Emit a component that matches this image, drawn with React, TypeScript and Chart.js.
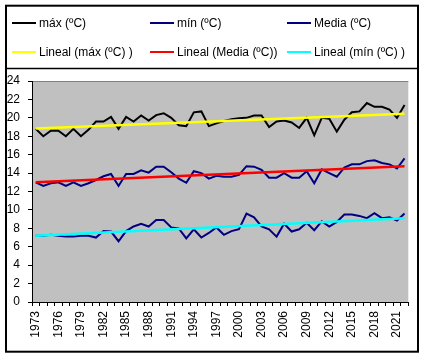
import React, { useEffect, useRef } from "react";
import { Chart, registerables } from "chart.js";

Chart.register(...registerables);

const years = [
  "1973","1974","1975","1976","1977","1978","1979","1980","1981","1982",
  "1983","1984","1985","1986","1987","1988","1989","1990","1991","1992",
  "1993","1994","1995","1996","1997","1998","1999","2000","2001","2002",
  "2003","2004","2005","2006","2007","2008","2009","2010","2011","2012",
  "2013","2014","2015","2016","2017","2018","2019","2020","2021","2022",
];

const maxValues = [
  18.8, 18.0, 18.6, 18.6, 18.0, 18.8, 18.0, 18.7, 19.6, 19.6,
  20.1, 18.8, 20.1, 19.6, 20.25, 19.7, 20.3, 20.5, 20.0, 19.2,
  19.1, 20.6, 20.7, 19.1, 19.4, 19.65, 19.85, 19.95, 20.0, 20.25,
  20.25, 19.0, 19.6, 19.7, 19.5, 18.9, 20.0, 18.1, 20.0, 19.9,
  18.5, 19.8, 20.6, 20.7, 21.6, 21.2, 21.2, 20.9, 20.0, 21.4,
];

const minValues = [
  7.2, 7.2, 7.3, 7.2, 7.1, 7.1, 7.2, 7.2, 7.0, 7.7,
  7.65, 6.6, 7.7, 8.2, 8.5, 8.2, 8.9, 8.9, 8.1, 8.0,
  6.9, 7.9, 7.0, 7.5, 8.1, 7.3, 7.7, 7.9, 9.6, 9.2,
  8.2, 7.9, 7.1, 8.5, 7.65, 7.9, 8.6, 7.8, 8.75, 8.2,
  8.7, 9.5, 9.5, 9.35, 9.1, 9.65, 9.1, 9.2, 8.85, 9.6,
];

const mediaValues = [
  13.0, 12.6, 12.9, 13.0, 12.6, 13.0, 12.6, 12.9, 13.25, 13.65,
  13.9, 12.6, 13.9, 13.9, 14.3, 14.05, 14.7, 14.7, 14.1, 13.4,
  12.95, 14.2, 14.0, 13.4, 13.7, 13.6, 13.6, 13.8, 14.75, 14.7,
  14.35, 13.5, 13.5, 14.0, 13.5, 13.5, 14.2, 12.9, 14.4, 14.0,
  13.6, 14.6, 14.95, 14.95, 15.3, 15.4, 15.1, 14.95, 14.5, 15.6,
];

// trend line end values (first year, last year)
const maxTrendEnds = [18.85, 20.45];
const mediaTrendEnds = [13.0, 14.75];
const minTrendEnds = [7.2, 9.1];

const seriesLabels = [
  "máx (ºC)",
  "mín (ºC)",
  "Media (ºC)",
  "Lineal (máx (ºC) )",
  "Lineal (Media (ºC))",
  "Lineal (mín (ºC) )",
];
const seriesColors = ["#000000", "#000080", "#000080", "#FFFF00", "#FF0000", "#00FFFF"];

const trendSeries = (ends: number[]) =>
  years.map((_, i) => (i === 0 ? ends[0] : i === years.length - 1 ? ends[1] : null));

const FONT = '"Liberation Sans", Arial, sans-serif';

const framePlugin = {
  id: "frame",
  beforeDraw(chart: any) {
    const { ctx, chartArea } = chart;
    ctx.save();
    ctx.fillStyle = "#FFFFFF";
    ctx.fillRect(0, 0, chart.width, chart.height);
    ctx.fillStyle = "#C0C0C0";
    ctx.fillRect(chartArea.left, chartArea.top, chartArea.right - chartArea.left, chartArea.bottom - chartArea.top);
    ctx.strokeStyle = "#808080";
    ctx.lineWidth = 1;
    ctx.beginPath();
    ctx.moveTo(chartArea.left, chartArea.top + 0.5);
    ctx.lineTo(chartArea.right, chartArea.top + 0.5);
    ctx.stroke();
    ctx.restore();
  },
  afterDraw(chart: any) {
    const { ctx } = chart;
    ctx.save();
    // outer frame
    ctx.strokeStyle = "#000000";
    ctx.lineWidth = 2;
    ctx.strokeRect(6, 5.7, 412, 346);
    // legend box bottom
    ctx.lineWidth = 1.5;
    ctx.beginPath();
    ctx.moveTo(6, 68.5);
    ctx.lineTo(418, 68.5);
    ctx.stroke();
    // legend entries
    const cols = [12, 150, 287];
    const rows = [23, 52];
    ctx.font = "12px " + FONT;
    ctx.textBaseline = "middle";
    ctx.textAlign = "left";
    seriesLabels.forEach((label, i) => {
      const x = cols[i % 3];
      const y = rows[Math.floor(i / 3)];
      ctx.strokeStyle = seriesColors[i];
      ctx.lineWidth = 2;
      ctx.beginPath();
      ctx.moveTo(x, y);
      ctx.lineTo(x + 24, y);
      ctx.stroke();
      ctx.fillStyle = "#000000";
      ctx.fillText(label, x + 27, y + 0.5);
    });
    ctx.restore();
  },
};

export default function App() {
  const ref = useRef<HTMLCanvasElement | null>(null);

  useEffect(() => {
    if (!ref.current) return;
    const dataSeries = [maxValues, minValues, mediaValues];
    const trends = [maxTrendEnds, mediaTrendEnds, minTrendEnds];
    const datasets: any[] = [];
    dataSeries.forEach((d, i) => {
      datasets.push({
        label: seriesLabels[i],
        data: d,
        borderColor: seriesColors[i],
        borderWidth: 2,
        pointRadius: 0,
        tension: 0,
        order: 2,
      });
    });
    trends.forEach((t, i) => {
      datasets.push({
        label: seriesLabels[3 + i],
        data: trendSeries(t),
        borderColor: seriesColors[3 + i],
        borderWidth: 2.5,
        pointRadius: 0,
        spanGaps: true,
        order: 1,
      });
    });

    const chart = new Chart(ref.current, {
      type: "line",
      data: { labels: years, datasets },
      options: {
        animation: false,
        responsive: false,
        layout: { padding: { top: 81, right: 6, left: 0, bottom: 0 } },
        plugins: { legend: { display: false }, tooltip: { enabled: false } },
        scales: {
          x: {
            type: "category",
            offset: true,
            grid: { offset: true, drawOnChartArea: false, drawTicks: true, tickLength: 4, color: "#000000" },
            border: { color: "#000000", width: 1 },
            ticks: {
              autoSkip: false,
              maxRotation: 90,
              minRotation: 90,
              padding: 5,
              color: "#000000",
              font: { family: FONT, size: 12 },
              callback: (_v: any, index: number) => (index % 3 === 0 ? years[index] : ""),
            },
            afterFit: (s: any) => {
              s.height = 55;
            },
          },
          y: {
            min: 0,
            max: 24,
            grid: { drawOnChartArea: false, drawTicks: true, tickLength: 4, color: "#000000" },
            border: { color: "#000000", width: 1 },
            ticks: { stepSize: 2, padding: 8, color: "#000000", font: { family: FONT, size: 12 } },
            afterFit: (s: any) => {
              s.width = 32;
            },
          },
        },
      },
      plugins: [framePlugin],
    });
    return () => chart.destroy();
  }, []);

  return (
    <div style={{ position: "absolute", left: 0, top: 0, width: 424, height: 357, background: "#fff" }}>
      <canvas ref={ref} width={424} height={357} />
    </div>
  );
}
